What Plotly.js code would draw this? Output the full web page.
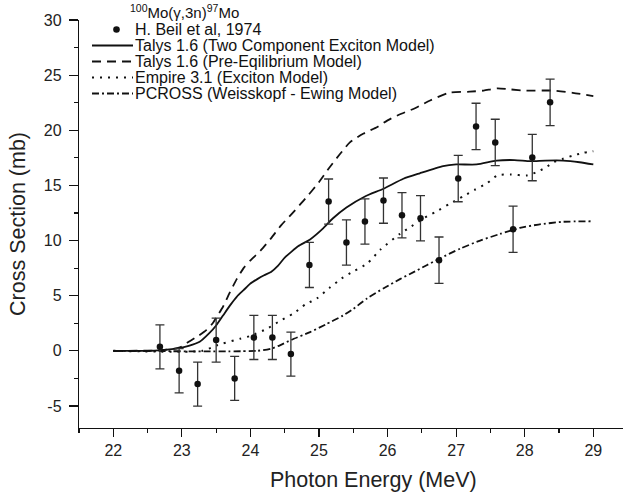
<!DOCTYPE html>
<html>
<head>
<meta charset="utf-8">
<script src="https://cdn.plot.ly/plotly-3.0.1.min.js"></script>
<style>html,body{margin:0;padding:0;background:#fff;}#chart{width:623px;height:498px;}</style>
</head>
<body>
<div id="chart"></div>
<script>
// ---- Data ----
const beilEnergy = [22.68, 22.96, 23.23, 23.50, 23.77, 24.05, 24.32, 24.59, 24.86, 25.14, 25.40, 25.67, 25.94, 26.21, 26.48, 26.75, 27.03, 27.29, 27.57, 27.83, 28.11, 28.37];
const beilSigma  = [0.36, -1.81, -3.02, 0.97, -2.50, 1.21, 1.21, -0.30, 7.79, 13.53, 9.82, 11.72, 13.62, 12.29, 12.02, 8.22, 15.62, 20.35, 18.90, 11.02, 17.52, 22.53];
const beilError  = [2.0, 2.0, 2.0, 2.0, 2.0, 2.0, 2.0, 2.0, 2.05, 2.05, 2.05, 2.05, 2.05, 2.05, 2.05, 2.1, 2.1, 2.1, 2.1, 2.1, 2.1, 2.1];

const talysTCEnergy = [22.0, 22.5, 22.7, 22.96, 23.1, 23.26, 23.4, 23.5, 23.6, 23.7, 23.8, 23.9, 24.0, 24.1, 24.2, 24.3, 24.4, 24.5, 24.6, 24.7, 24.87, 25.06, 25.2, 25.4, 25.67, 25.94, 26.23, 26.47, 26.81, 27.0, 27.3, 27.59, 27.85, 28.08, 28.3, 28.56, 28.8, 29.0];
const talysTCSigma  = [0.0, 0.0, 0.06, 0.24, 0.45, 0.82, 1.6, 2.3, 3.2, 4.1, 4.9, 5.5, 6.1, 6.5, 6.85, 7.15, 7.7, 8.45, 9.0, 9.5, 10.1, 11.1, 12.0, 13.0, 14.0, 14.7, 15.6, 16.1, 16.75, 16.9, 16.9, 17.25, 17.3, 17.2, 17.25, 17.25, 17.1, 16.9];

const talysPEEnergy = [22.0, 22.7, 22.97, 23.12, 23.25, 23.36, 23.45, 23.5, 23.6, 23.7, 23.8, 23.9, 24.0, 24.15, 24.3, 24.45, 24.6, 24.8, 25.0, 25.15, 25.3, 25.45, 25.65, 25.85, 26.0, 26.2, 26.4, 26.62, 26.9, 27.2, 27.4, 27.6, 27.8, 28.0, 28.4, 28.7, 29.0];
const talysPESigma  = [0.0, 0.05, 0.31, 0.9, 1.4, 1.9, 2.5, 3.0, 4.0, 5.3, 6.5, 7.5, 8.2, 9.1, 10.2, 11.4, 12.4, 13.8, 15.3, 16.6, 17.8, 18.9, 19.7, 20.3, 20.9, 21.5, 22.0, 22.7, 23.4, 23.5, 23.6, 23.8, 23.7, 23.6, 23.6, 23.4, 23.1];

const empireEnergy = [22.0, 23.3, 23.51, 23.6, 23.85, 24.0, 24.24, 24.4, 24.63, 24.8, 24.97, 25.15, 25.33, 25.5, 25.7, 25.9, 26.18, 26.35, 26.52, 26.7, 26.91, 27.1, 27.27, 27.45, 27.6, 27.8, 28.03, 28.17, 28.3, 28.42, 28.55, 28.7, 28.85, 29.0];
const empireSigma  = [0.0, 0.0, 0.5, 0.67, 1.1, 1.35, 2.0, 2.6, 3.4, 4.2, 4.75, 5.7, 6.56, 7.2, 7.9, 9.2, 10.6, 11.3, 12.0, 12.6, 13.35, 14.0, 14.6, 15.2, 15.9, 16.0, 15.9, 16.2, 16.6, 17.1, 17.4, 17.7, 17.95, 18.1];

const pcrossEnergy = [22.0, 24.1, 24.3, 24.43, 24.6, 24.87, 25.1, 25.35, 25.5, 25.7, 25.95, 26.18, 26.4, 26.57, 26.76, 27.06, 27.35, 27.64, 27.93, 28.2, 28.56, 29.0];
const pcrossSigma  = [0.0, 0.0, 0.2, 0.5, 1.0, 1.7, 2.4, 3.2, 3.8, 4.75, 5.7, 6.5, 7.2, 7.76, 8.37, 9.27, 10.0, 10.6, 11.15, 11.45, 11.7, 11.75];

const xTickVals = [22, 23, 24, 25, 26, 27, 28, 29];
const xTickText = ['22', '23', '24', '25', '26', '27', '28', '29'];
const yTickVals = [-5, 0, 5, 10, 15, 20, 25, 30];
const yTickText = ['-5', '0', '5', '10', '15', '20', '25', '30'];

const legendTitle = '<sup>100</sup>Mo(γ,3n)<sup>97</sup>Mo';
const seriesNames = [
  'H. Beil et al, 1974',
  'Talys 1.6 (Two Component Exciton Model)',
  'Talys 1.6 (Pre-Eqilibrium Model)',
  'Empire 3.1 (Exciton Model)',
  'PCROSS (Weisskopf - Ewing Model)'
];
const xTitle = 'Photon Energy (MeV)';
const yTitle = 'Cross Section (mb)';

// ---- Styles ----
const FONT = 'Liberation Sans, Arial, Helvetica, sans-serif';
const lineDashes = [null, 'solid', '9px,6px', '2px,6px', '7px,3px,2px,3px'];
const W = 623, H = 498;
const M = {l: 79, r: 0, t: 20, b: 70};
const pw = W - M.l - M.r, ph = H - M.t - M.b;
const px2x = p => (p - M.l) / pw;
const px2y = p => (H - M.b - p) / ph;

const traces = [
  {x: talysTCEnergy, y: talysTCSigma, mode: 'lines', name: seriesNames[1],
   line: {color: '#111', width: 1.8, dash: lineDashes[1], shape: 'spline', smoothing: 0.6}},
  {x: talysPEEnergy, y: talysPESigma, mode: 'lines', name: seriesNames[2],
   line: {color: '#111', width: 1.8, dash: lineDashes[2], shape: 'spline', smoothing: 0.6}},
  {x: empireEnergy, y: empireSigma, mode: 'lines', name: seriesNames[3],
   line: {color: '#111', width: 2, dash: lineDashes[3], shape: 'spline', smoothing: 0.6}},
  {x: pcrossEnergy, y: pcrossSigma, mode: 'lines', name: seriesNames[4],
   line: {color: '#111', width: 1.8, dash: lineDashes[4], shape: 'spline', smoothing: 0.6}},
  {x: beilEnergy, y: beilSigma, mode: 'markers', name: seriesNames[0],
   marker: {color: '#111', size: 6.5},
   error_y: {type: 'data', array: beilError, visible: true, color: '#333', thickness: 1.3, width: 4.5}}
];

// ---- Hand-drawn legend (compact spacing as in the reference) ----
const rowY = [29.5, 45.5, 61.5, 77.5, 93.5];
const shapes = [];
const annotations = [];
annotations.push({xref: 'paper', yref: 'paper', x: px2x(128), y: px2y(11), xanchor: 'left', yanchor: 'middle',
  text: legendTitle, showarrow: false, font: {family: FONT, size: 15, color: '#111'}});
seriesNames.forEach((nm, i) => {
  annotations.push({xref: 'paper', yref: 'paper', x: px2x(133), y: px2y(rowY[i]), xanchor: 'left', yanchor: 'middle',
    text: nm, showarrow: false, font: {family: FONT, size: 16, color: '#111'}});
  if (i === 0) {
    shapes.push({type: 'circle', xref: 'paper', yref: 'paper', xsizemode: 'pixel', ysizemode: 'pixel',
      xanchor: px2x(116.5), yanchor: px2y(rowY[i]), x0: -3.3, x1: 3.3, y0: -3.3, y1: 3.3,
      fillcolor: '#111', line: {width: 0}});
  } else {
    shapes.push({type: 'line', xref: 'paper', yref: 'paper', x0: px2x(92), x1: px2x(133),
      y0: px2y(rowY[i]), y1: px2y(rowY[i]), line: {color: '#111', width: i === 3 ? 2 : 1.8, dash: lineDashes[i]}});
  }
});
annotations.push({xref: 'paper', yref: 'paper', x: px2x(373), y: px2y(480), xanchor: 'center', yanchor: 'middle',
  text: xTitle, showarrow: false, font: {family: FONT, size: 21.5, color: '#222'}});

const layout = {
  width: W, height: H,
  margin: M,
  paper_bgcolor: '#fff', plot_bgcolor: '#fff',
  showlegend: false,
  font: {family: FONT, color: '#222'},
  xaxis: {
    range: [21.5, 29.433], tickmode: 'array', tickvals: xTickVals, ticktext: xTickText,
    ticks: 'outside', ticklen: 8, tickwidth: 1.2, tickcolor: '#111',
    minor: {dtick: 0.5, ticks: 'outside', ticklen: 4, tickwidth: 1.2, tickcolor: '#111'},
    showline: true, linecolor: '#111', linewidth: 1.2, showgrid: false, zeroline: false,
    tickfont: {family: FONT, size: 16, color: '#222'}
  },
  yaxis: {
    range: [-7.0, 30], tickmode: 'array', tickvals: yTickVals, ticktext: yTickText,
    ticks: 'outside', ticklen: 9, tickwidth: 1.2, tickcolor: '#111', ticklabelstandoff: 4,
    minor: {dtick: 2.5, tick0: 0, ticks: 'outside', ticklen: 4, tickwidth: 1.2, tickcolor: '#111'},
    showline: true, linecolor: '#111', linewidth: 1.2, showgrid: false, zeroline: false,
    tickfont: {family: FONT, size: 16, color: '#222'},
    title: {text: yTitle, font: {family: FONT, size: 21.5, color: '#222'}, standoff: 12}
  },
  shapes: shapes,
  annotations: annotations
};

Plotly.newPlot('chart', traces, layout, {displayModeBar: false, staticPlot: true});
</script>
</body>
</html>
